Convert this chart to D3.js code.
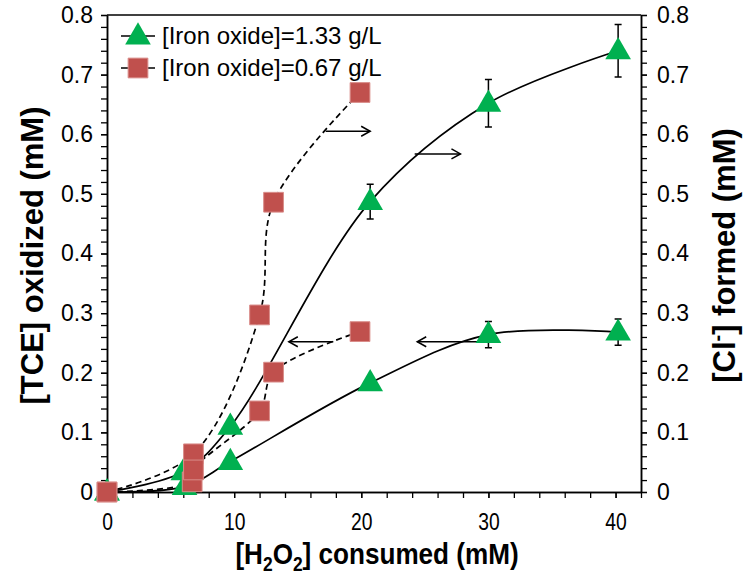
<!DOCTYPE html>
<html><head><meta charset="utf-8">
<script src="https://cdn.jsdelivr.net/npm/d3@7"></script>
<style>body{margin:0;background:#fff} svg{display:block}</style>
</head><body><svg id="c" width="750" height="585"></svg>
<script>
// ---- data ----
const greenClX   = [0, 6.0, 9.7, 20.7, 30.0, 40.2];
const greenClY   = [0, 0.034, 0.11, 0.487, 0.652, 0.740];
const greenClErr = [0, 0, 0, 0.029, 0.040, 0.044];
const greenTceX  = [0, 6.1, 9.7, 20.7, 30.0, 40.2];
const greenTceY  = [0, 0.009, 0.051, 0.183, 0.264, 0.268];
const greenTceErr= [0, 0, 0, 0, 0.022, 0.022];
const redClX     = [0, 6.8, 12.0, 13.1, 19.9];
const redClY     = [0, 0.064, 0.297, 0.486, 0.670];
const redTceX    = [0, 6.7, 6.8, 12.0, 13.1, 19.9];
const redTceY    = [0, 0.017, 0.037, 0.136, 0.201, 0.269];
const arrowX1 = [17.2, 24.2, 17.8, 29.3];
const arrowX2 = [20.7, 27.8, 14.3, 24.4];
const arrowY  = [0.605, 0.567, 0.252, 0.252];
const xTickVals = [0, 10, 20, 30, 40];
const yTickVals = [0, 0.1, 0.2, 0.3, 0.4, 0.5, 0.6, 0.7, 0.8];
const yTickLabels = ["0","0.1","0.2","0.3","0.4","0.5","0.6","0.7","0.8"];
const legendLabels = ["[Iron oxide]=1.33 g/L", "[Iron oxide]=0.67 g/L"];

const GREEN = "#00b050", RED = "#c0504d";
const svg = d3.select("#c");
const L = 107, R = 641, T = 15, B = 492;
const x = d3.scaleLinear().domain([0, 42]).range([L, R]);
const y = d3.scaleLinear().domain([0, 0.8]).range([B, T]);

const font = "'Liberation Sans', Arial, Helvetica, sans-serif";

// frame
svg.append("line").attr("x1", L).attr("x2", R).attr("y1", T).attr("y2", T).attr("stroke", "#000").attr("stroke-width", 1.5);

// axes
function styleAxis(g) {
  g.select(".domain").attr("stroke", "#000").attr("stroke-width", 1.5);
  g.selectAll(".tick line").attr("stroke", "#000").attr("stroke-width", 1.3);
}
const xMinor = d3.range(0, 42.01, 2);
svg.append("g").attr("transform", `translate(0,${B})`)
  .call(d3.axisBottom(x).tickValues(xMinor).tickSize(6).tickFormat("").tickSizeOuter(0)).call(styleAxis);
svg.append("g").attr("transform", `translate(0,${B})`)
  .call(d3.axisBottom(x).tickValues(xTickVals).tickSize(6).tickPadding(16).tickSizeOuter(0)).call(styleAxis)
  .selectAll("text").attr("font-family", font).attr("font-size", 23).attr("fill", "#000")
  .attr("transform", "scale(0.84,1)");

const yMinor = d3.range(0, 0.801, 0.02);
[[d3.axisLeft, L], [d3.axisRight, R]].forEach(([ax, pos], i) => {
  svg.append("g").attr("transform", `translate(${pos},0)`)
    .call(ax(y).tickValues(yMinor).tickSize(6).tickFormat("").tickSizeOuter(0)).call(styleAxis);
  svg.append("g").attr("transform", `translate(${pos},0)`)
    .call(ax(y).tickValues(yTickVals).tickSize(6).tickPadding(i === 0 ? 8 : 10)
      .tickFormat((d, k) => yTickLabels[k]).tickSizeOuter(0)).call(styleAxis)
    .selectAll("text").attr("font-family", font).attr("font-size", 23).attr("fill", "#000");
});

// titles
svg.append("text").attr("transform", `translate(43,${(T + B) / 2 + 2}) rotate(-90)`)
  .attr("text-anchor", "middle").attr("font-family", font).attr("font-weight", "bold").attr("font-size", 31)
  .text("[TCE] oxidized (mM)");
const rt = svg.append("text").attr("transform", `translate(735,${(T + B) / 2 + 2}) rotate(-90)`)
  .attr("text-anchor", "middle").attr("font-family", font).attr("font-weight", "bold").attr("font-size", 31);
rt.append("tspan").text("[Cl");
rt.append("tspan").attr("dy", -11).attr("font-size", 20).text("-");
rt.append("tspan").attr("dy", 11).text("] formed (mM)");
const xt = svg.append("text").attr("transform", "translate(377,564) scale(0.87,1)").attr("text-anchor", "middle")
  .attr("font-family", font).attr("font-weight", "bold").attr("font-size", 30);
xt.append("tspan").text("[H");
xt.append("tspan").attr("dy", 7).attr("font-size", 20).text("2");
xt.append("tspan").attr("dy", -7).text("O");
xt.append("tspan").attr("dy", 7).attr("font-size", 20).text("2");
xt.append("tspan").attr("dy", -7).text("] consumed (mM)");

// curves
const line = d3.line().x(d => x(d[0])).y(d => y(d[1])).curve(d3.curveCatmullRom.alpha(0.5));
const zip = (a, b) => a.map((v, i) => [v, b[i]]);
[[greenClX, greenClY, null], [greenTceX, greenTceY, null], [redClX, redClY, "6,4"], [redTceX, redTceY, "6,4"]]
  .forEach(([xs, ys, dash]) => {
    svg.append("path").attr("d", line(zip(xs, ys))).attr("fill", "none").attr("stroke", "#000")
      .attr("stroke-width", 1.7).attr("stroke-dasharray", dash);
  });

// arrows
arrowX1.forEach((x1, i) => {
  const xa = x(x1), xb = x(arrowX2[i]), yy = y(arrowY[i]);
  const s = xb > xa ? 1 : -1;
  svg.append("line").attr("x1", xa).attr("x2", xb).attr("y1", yy).attr("y2", yy).attr("stroke", "#000").attr("stroke-width", 1.5);
  svg.append("path").attr("d", `M${xb - s * 9},${yy - 5}L${xb},${yy}L${xb - s * 9},${yy + 5}`)
    .attr("fill", "none").attr("stroke", "#000").attr("stroke-width", 1.5);
});

// error bars
function errBars(xs, ys, es) {
  xs.forEach((xv, i) => {
    if (!es[i]) return;
    const cx = x(xv), y1 = y(ys[i] + es[i]), y2 = y(ys[i] - es[i]);
    svg.append("path").attr("d", `M${cx},${y1}V${y2}M${cx - 3.5},${y1}H${cx + 3.5}M${cx - 3.5},${y2}H${cx + 3.5}`)
      .attr("stroke", "#000").attr("stroke-width", 1.5).attr("fill", "none");
  });
}
errBars(greenClX, greenClY, greenClErr);
errBars(greenTceX, greenTceY, greenTceErr);

// markers
const tri = d3.symbol().type(d3.symbolTriangle).size(285);
const sq = d3.symbol().type(d3.symbolSquare).size(390);
[[greenClX, greenClY], [greenTceX, greenTceY]].forEach(([xs, ys]) => {
  xs.forEach((xv, i) => svg.append("path").attr("d", tri()).attr("transform", `translate(${x(xv)},${y(ys[i]) + 1})`)
    .attr("fill", GREEN));
});
[[redClX, redClY], [redTceX, redTceY]].forEach(([xs, ys]) => {
  xs.forEach((xv, i) => svg.append("path").attr("d", sq()).attr("transform", `translate(${x(xv)},${y(ys[i])})`)
    .attr("fill", RED).attr("stroke", "#d98c89").attr("stroke-width", 1));
});

// legend
const legY = [36, 68];
legendLabels.forEach((lab, i) => {
  const g = svg.append("g");
  g.append("line").attr("x1", 121).attr("x2", 155).attr("y1", legY[i]).attr("y2", legY[i]).attr("stroke", "#000").attr("stroke-width", 1.5);
  g.append("path").attr("d", i === 0 ? tri() : sq()).attr("transform", `translate(138,${legY[i] + (i === 0 ? 1 : 0)})`)
    .attr("fill", i === 0 ? GREEN : RED).attr("stroke", i === 0 ? null : "#d98c89");
  g.append("text").attr("x", 162).attr("y", legY[i] + 8).attr("font-family", font).attr("font-size", 24).text(lab);
});
</script></body></html>
